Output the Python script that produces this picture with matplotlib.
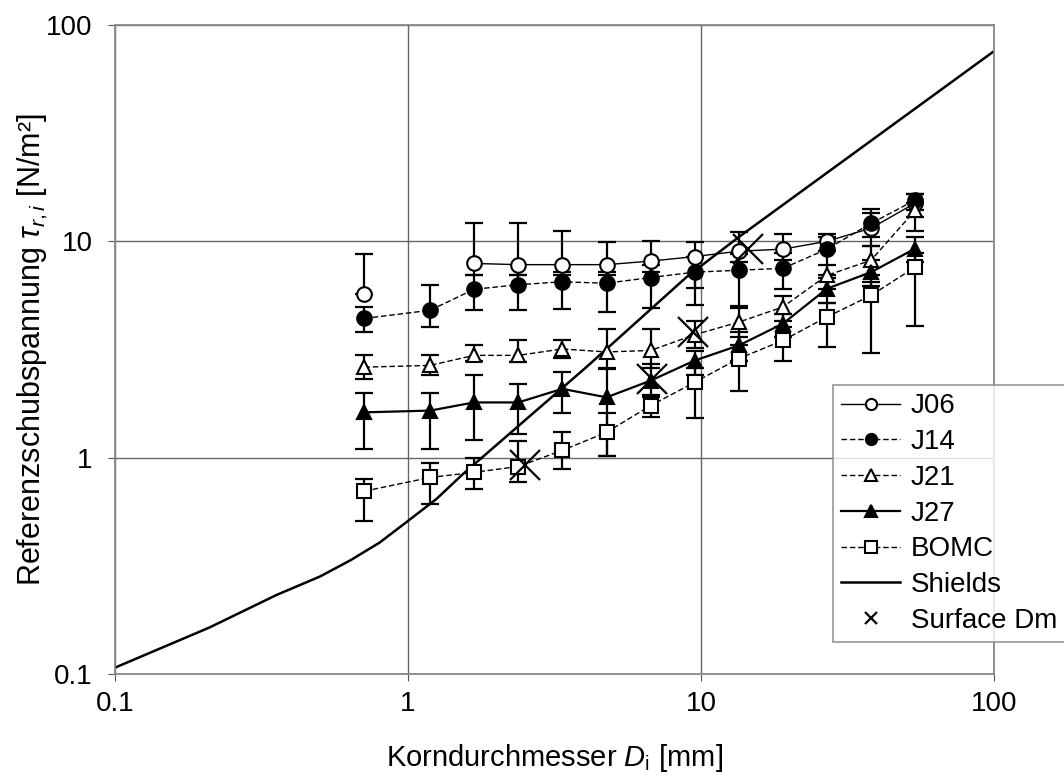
import matplotlib
matplotlib.use('Agg')
import matplotlib.pyplot as plt
import numpy as np

plt.rcParams['font.family'] = ['Liberation Sans', 'DejaVu Sans']
plt.rcParams['mathtext.fontset'] = 'custom'
plt.rcParams['mathtext.it'] = 'Liberation Sans:italic'
plt.rcParams['mathtext.rm'] = 'Liberation Sans'

# Data (grain size classes in mm)
d = [0.71, 1.19, 1.68, 2.38, 3.36, 4.76, 6.73, 9.51, 13.45, 19.03, 26.9, 38.05, 53.8]

j06 = [5.7, np.nan, 7.9, 7.8, 7.8, 7.8, 8.1, 8.5, 9.0, 9.2, 10.0, 11.5, 15.0]
j06_hi = [8.7, np.nan, 12.1, 12.1, 11.2, 9.9, 10.0, 9.9, 11.0, 10.8, 10.8, 13.5, 16.5]
j06_lo = [5.7, np.nan, 7.0, 7.0, 7.0, 7.0, 7.2, 6.1, 8.0, 8.2, 9.0, 10.5, 14.0]

j14 = [4.4, 4.8, 6.0, 6.3, 6.5, 6.4, 6.8, 7.2, 7.35, 7.5, 9.2, 12.1, 15.5]
j14_hi = [4.95, 6.25, 7.0, 7.0, 7.2, 7.2, 7.8, 8.5, 8.7, 8.8, 10.5, 14.1, 16.5]
j14_lo = [3.8, 4.0, 4.8, 4.8, 4.85, 4.7, 4.9, 5.06, 5.0, 6.05, 7.0, 9.5, 13.0]

j21 = [2.62, 2.67, 2.97, 2.97, 3.18, 3.08, 3.13, 3.7, 4.23, 4.97, 6.96, 8.17, 13.9]
j21_hi = [2.97, 2.97, 3.3, 3.5, 3.5, 3.95, 3.95, 4.3, 4.9, 5.6, 7.8, 9.5, 15.0]
j21_lo = [2.3, 2.4, 2.8, 2.76, 2.9, 2.58, 2.6, 3.2, 3.6, 4.3, 6.0, 7.0, 11.2]

j27 = [1.62, 1.65, 1.80, 1.80, 2.08, 1.90, 2.27, 2.81, 3.3, 4.16, 6.04, 7.2, 9.25]
j27_hi = [1.98, 1.98, 2.4, 2.19, 2.48, 2.6, 2.7, 3.1, 3.8, 4.6, 6.8, 8.2, 10.5]
j27_lo = [1.10, 1.10, 1.21, 1.29, 1.6, 1.02, 1.9, 2.4, 2.8, 3.6, 5.2, 6.2, 8.0]

bomc = [0.70, 0.81, 0.855, 0.91, 1.08, 1.31, 1.74, 2.23, 2.87, 3.48, 4.47, 5.62, 7.6]
bomc_hi = [0.80, 0.94, 0.995, 1.2, 1.31, 1.6, 1.95, 2.6, 3.3, 4.0, 5.2, 6.5, 8.8]
bomc_lo = [0.51, 0.61, 0.72, 0.77, 0.89, 1.02, 1.54, 1.53, 2.03, 2.8, 3.24, 3.04, 4.04]

shields_d = [0.1, 0.21, 0.356, 0.5, 0.635, 0.8, 1.0, 1.25, 1.54, 4.06, 8.93, 13.5, 99.4]
shields_tau = [0.107, 0.164, 0.232, 0.282, 0.335, 0.405, 0.51, 0.644, 0.84, 2.62, 6.84, 10.5, 75.2]

surf_d = [2.5, 6.8, 9.4, 14.5]
surf_tau = [0.92, 2.3, 3.8, 9.2]

fig = plt.figure(figsize=(10.64, 7.8), dpi=100)
ax = fig.add_axes([0.1081, 0.1359, 0.8261, 0.8321])

ax.plot(shields_d, shields_tau, color='black', lw=1.8, zorder=2, label='Shields')

series = [
    ('J06', j06, j06_lo, j06_hi, 'o', 'white', '-', 1.0),
    ('J14', j14, j14_lo, j14_hi, 'o', 'black', (0, (4, 2)), 1.0),
    ('J21', j21, j21_lo, j21_hi, '^', 'white', (0, (4, 2)), 1.0),
    ('J27', j27, j27_lo, j27_hi, '^', 'black', '-', 1.6),
    ('BOMC', bomc, bomc_lo, bomc_hi, 's', 'white', (0, (4, 2)), 1.0),
]

for name, y, lo, hi, mk, fc, ls, lw in series:
    y = np.array(y)
    err = [y - np.array(lo), np.array(hi) - y]
    ax.errorbar(d, y, yerr=err, fmt='none', ecolor='black', elinewidth=1.6,
                capsize=6.5, capthick=1.6, zorder=3)
    ax.plot(d, y, ls=ls, lw=lw, color='black', marker=mk, markersize=10.5,
            markerfacecolor=fc, markeredgecolor='black', markeredgewidth=1.5,
            zorder=4, label=name)

ax.plot(surf_d, surf_tau, ls='none', marker='x', markersize=21, markeredgewidth=1.6,
        color='black', zorder=5, label='Surface Dm')

ax.set_xscale('log')
ax.set_yscale('log')
ax.set_xlim(0.1, 100)
ax.set_ylim(0.1, 100)
ax.set_xticks([0.1, 1, 10, 100])
ax.set_xticklabels(['0.1', '1', '10', '100'])
ax.set_yticks([0.1, 1, 10, 100])
ax.set_yticklabels(['0.1', '1', '10', '100'])
ax.minorticks_off()
ax.tick_params(labelsize=20, length=5, color='#555555')
ax.tick_params(axis='x', pad=7)
ax.tick_params(axis='y', pad=11)
ax.grid(True, which='major', color='#666666', lw=1.0)
for s in ax.spines.values():
    s.set_color('#888888')
    s.set_linewidth(1.3)

ax.set_xlabel(r'Korndurchmesser $D_{\mathrm{i}}$ [mm]', fontsize=21, labelpad=18)
ax.set_ylabel(r'Referenzschubspannung $\tau_{r,i}$ [N/m²]', fontsize=22, labelpad=-3)

order = ['J06', 'J14', 'J21', 'J27', 'BOMC', 'Shields', 'Surface Dm']
hs, labs = ax.get_legend_handles_labels()
lut = dict(zip(labs, hs))
leg = fig.legend([lut[k] for k in order], order, loc='upper left',
                 bbox_to_anchor=(0.783, 0.5064), fontsize=20, frameon=True,
                 fancybox=False, edgecolor='#888888', handlelength=2.1,
                 handletextpad=0.4, labelspacing=0.35, borderpad=0.3,
                 borderaxespad=0)
leg.get_frame().set_linewidth(1.3)
for h in leg.legend_handles:
    h.set_markersize(8)

fig.savefig('out.png', dpi=100)
